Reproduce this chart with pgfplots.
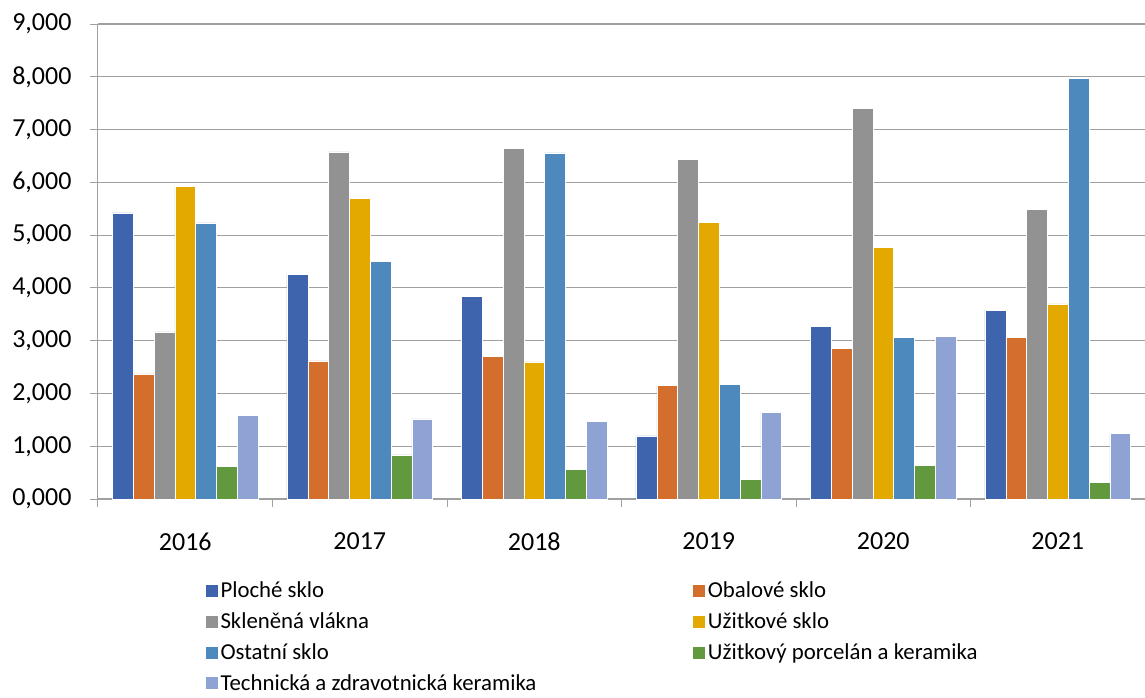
\documentclass[border=0pt]{standalone}
\usepackage{pgfplots}
\pgfplotsset{compat=1.18}
\usepackage{pgfplotstable}
\usepackage{fontspec}
\setmainfont{Carlito}

\definecolor{cPloche}{HTML}{3D64AD}
\definecolor{cObal}{HTML}{D46E2C}
\definecolor{cVlakna}{HTML}{929292}
\definecolor{cUzit}{HTML}{E3A900}
\definecolor{cOstatni}{HTML}{4E89BE}
\definecolor{cPorc}{HTML}{62983E}
\definecolor{cTech}{HTML}{8FA2D4}
\definecolor{gridgray}{HTML}{A0A0A0}

% values per year (0 = 2016 ... 5 = 2021)
\pgfplotstableread{
x  ploche obal  vlakna uzit  ostatni porc  tech
0  5.420  2.370 3.165  5.930 5.230   0.612 1.591
1  4.263  2.615 6.575  5.703 4.509   0.834 1.516
2  3.846  2.709 6.650  2.596 6.556   0.568 1.478
3  1.194  2.160 6.442  5.248 2.179   0.379 1.648
4  3.265  2.848 7.408  4.774 3.063   0.631 3.083
5  3.581  3.069 5.494  3.695 7.976   0.322 1.250
}\datatable

\begin{document}
\begin{tikzpicture}
\useasboundingbox (-98pt,-198pt) rectangle (1047pt,499pt);
\begin{axis}[
    scale only axis,
    width=1047pt, height=475pt,
    ybar=0pt, bar width=20.8pt,
    xmin=-0.5, xmax=5.5,
    ymin=0, ymax=9,
    ytick={0,1,...,9},
    yticklabels={{0,000},{1,000},{2,000},{3,000},{4,000},{5,000},{6,000},{7,000},{8,000},{9,000}},
    xtick={0,1,2,3,4,5},
    xticklabels={2016,2017,2018,2019,2020,2021},
    minor xtick={-0.5,0.5,...,5.5},
    major x tick style={draw=none},
    minor x tick style={draw=gridgray, line width=1pt},
    minor tick length=8pt,
    axis x line=bottom, axis y line=left,
    axis line style={draw=gridgray, line width=1pt, -},
    tick style={draw=gridgray, line width=1pt},
    tick align=outside,
    major tick length=8pt,
    ymajorgrids=true,
    grid style={draw=gridgray, line width=1.2pt},
    font=\fontsize{26}{30}\selectfont,
    yticklabel style={xshift=-15pt},
    xticklabel style={yshift=-22pt},
    legend columns=2,
    legend cell align=left,
    legend image code/.code={\fill[#1] (0pt,-6.5pt) rectangle (13pt,6.5pt);},
    legend style={
        at={(0.102,-0.170)}, anchor=north west,
        draw=none, inner sep=0pt,
        font=\fontsize{22.8}{26}\selectfont,
        row sep=9.5pt,
        /tikz/every even column/.append style={column sep=154pt},
    },
    every axis plot/.append style={draw=white, line width=0.5pt},
]
\addplot[fill=cPloche]  table[x=x, y=ploche]  {\datatable};
\addplot[fill=cObal]    table[x=x, y=obal]    {\datatable};
\addplot[fill=cVlakna]  table[x=x, y=vlakna]  {\datatable};
\addplot[fill=cUzit]    table[x=x, y=uzit]    {\datatable};
\addplot[fill=cOstatni] table[x=x, y=ostatni] {\datatable};
\addplot[fill=cPorc]    table[x=x, y=porc]    {\datatable};
\addplot[fill=cTech]    table[x=x, y=tech]    {\datatable};
\legend{Ploché sklo, Obalové sklo, Skleněná vlákna, Užitkové sklo, Ostatní sklo, Užitkový porcelán a keramika, Technická a zdravotnická keramika}
\end{axis}
\end{tikzpicture}
\end{document}
